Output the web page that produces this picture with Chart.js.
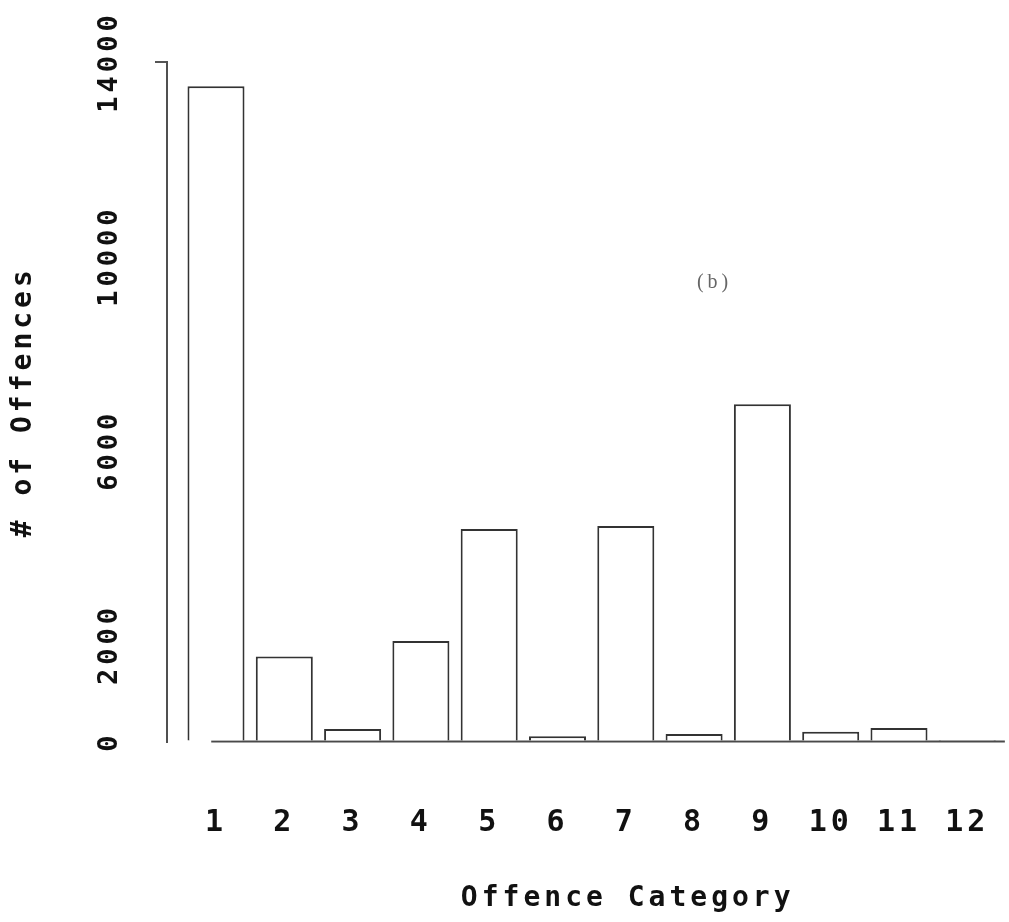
<!DOCTYPE html>
<html>
<head>
<meta charset="utf-8">
<script src="https://cdn.jsdelivr.net/npm/chart.js@4"></script>
<style>
  html, body { margin: 0; padding: 0; background: #ffffff; }
  #wrap { width: 1009px; height: 922px; }
</style>
</head>
<body>
<div id="wrap"><canvas id="c" width="1009" height="922"></canvas></div>
<script>
// ---- data ----
const categories = [1, 2, 3, 4, 5, 6, 7, 8, 9, 10, 11, 12];
const offences   = [13500, 1750, 260, 2070, 4380, 110, 4440, 155, 6950, 200, 280, 30];
const yTickValues = [0, 2000, 6000, 10000, 14000];
const xTitle = 'Offence Category';
const yTitle = '# of Offences';
const panelLabel = '(b)';

const MONO = '"DejaVu Sans Mono", "Liberation Mono", monospace';
const INK = '#111111';
const LINE = '#333333';

const spacingPlugin = {
  id: 'spacing',
  beforeUpdate(chart) { chart.ctx.letterSpacing = '4px'; },
  beforeDraw(chart) { chart.ctx.letterSpacing = '4px'; }
};

const baselinePlugin = {
  id: 'baseline',
  beforeDatasetsDraw(chart) {
    const {ctx, scales: {x, y}} = chart;
    const y0 = y.getPixelForValue(0);
    ctx.save();
    ctx.strokeStyle = '#4a4a4a';
    ctx.lineWidth = 2;
    ctx.beginPath();
    ctx.moveTo(x.getPixelForValue(0.93), y0);
    ctx.lineTo(x.getPixelForValue(12.55), y0);
    ctx.stroke();
    ctx.restore();
  }
};

const panelPlugin = {
  id: 'panel',
  afterDraw(chart) {
    const {ctx, scales: {x, y}} = chart;
    ctx.save();
    ctx.letterSpacing = '4px';
    ctx.font = '20px "Liberation Serif", "DejaVu Serif", serif';
    ctx.fillStyle = '#666666';
    ctx.textAlign = 'center';
    ctx.textBaseline = 'middle';
    ctx.fillText(panelLabel, x.getPixelForValue(8.3), y.getPixelForValue(9450));
    ctx.restore();
  }
};

new Chart(document.getElementById('c'), {
  type: 'bar',
  data: {
    datasets: [{
      data: categories.map((c, i) => ({x: c, y: offences[i]})),
      backgroundColor: '#ffffff',
      borderColor: LINE,
      borderWidth: 2,
      borderSkipped: 'start',
      categoryPercentage: 1,
      barPercentage: 0.835
    }]
  },
  options: {
    responsive: false,
    animation: false,
    events: [],
    layout: { padding: { top: 62, right: 4, bottom: 0, left: 0 } },
    plugins: { legend: { display: false }, tooltip: { enabled: false } },
    scales: {
      x: {
        type: 'linear',
        offset: false,
        min: 0.2826,
        max: 12.552,
        afterBuildTicks(scale) { scale.ticks = categories.map(v => ({value: v})); },
        grid: {
          display: true,
          drawOnChartArea: false,
          drawTicks: true,
          tickLength: 64,
          offset: false,
          color: 'rgba(0,0,0,0)'
        },
        border: { display: false },
        ticks: {
          autoSkip: false,
          maxRotation: 0,
          minRotation: 0,
          padding: 0,
          color: INK,
          font: { family: MONO, size: 30, weight: 'bold' },
          callback: (v) => String(v)
        },
        title: {
          display: true,
          text: '    ' + xTitle,
          color: INK,
          font: { family: MONO, size: 28, weight: 'bold' },
          padding: { top: 40.7, bottom: 6.2 }
        }
      },
      y: {
        min: 0,
        max: 14000,
        afterBuildTicks(scale) { scale.ticks = yTickValues.map(v => ({value: v})); },
        grid: {
          drawOnChartArea: false,
          drawTicks: true,
          tickLength: 12,
          lineWidth: 2,
          color: (ctx) => (ctx.tick && ctx.tick.value === 14000) ? '#555555' : 'rgba(0,0,0,0)'
        },
        border: { display: true, color: '#505050', width: 2 },
        ticks: {
          autoSkip: false,
          minRotation: 90,
          maxRotation: 90,
          crossAlign: 'center',
          padding: -6,
          color: INK,
          font: { family: MONO, size: 27, weight: 'bold' },
          callback: (v) => String(v)
        },
        title: {
          display: true,
          text: yTitle,
          color: INK,
          font: { family: MONO, size: 28, weight: 'bold' },
          padding: { top: 7.2, bottom: 93.8 }
        }
      }
    }
  },
  plugins: [spacingPlugin, baselinePlugin, panelPlugin]
});
</script>
</body>
</html>
